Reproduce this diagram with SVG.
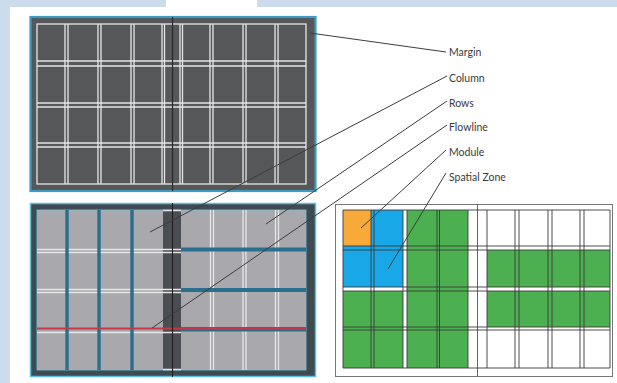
<svg xmlns="http://www.w3.org/2000/svg" width="617" height="383" viewBox="0 0 617 383">
<style>
.wl{stroke:#e6e6e8;stroke-width:1.3;fill:none}
.dl{stroke:#3a3a3a;stroke-width:0.9;fill:none}
.lead{stroke:#3d3d3d;stroke-width:1;fill:none}
.lbl{font-family:Lato,"Open Sans","Liberation Sans",sans-serif;font-size:10.5px;fill:#3a3a3a}
.teal{fill:#2a6e8e}
</style>
<rect width="617" height="383" fill="#ffffff"/>
<rect x="0" y="0" width="617" height="7" fill="#cddcec"/>
<rect x="166" y="0" width="91" height="7" fill="#ffffff"/>
<rect x="0" y="0" width="10" height="383" fill="#cddcec"/>

<g id="panel-top">
<rect x="30.5" y="17" width="285" height="174" fill="#555759" stroke="#3f9cbf" stroke-width="2.2"/>
<g class="wl">
<rect x="37" y="24" width="269" height="160"/>
<path d="M65 24V184M68 24V184M98 24V184M101 24V184M131 24V184M134 24V184M162 24V184M164.5 24V184M180 24V184M182.5 24V184M210 24V184M213 24V184M243 24V184M246 24V184M275 24V184M278 24V184"/>
<path d="M37 61H306M37 66H306M37 103H306M37 107H306M37 143H306M37 147H306"/>
</g>
<line x1="172.5" y1="17" x2="172.5" y2="191" stroke="#2a2a2a" stroke-width="1.2"/>
</g>

<g id="panel-bottom-left">
<rect x="30.5" y="203.5" width="285" height="173" fill="#3f4a52" stroke="#5bc0dc" stroke-width="1.5"/>
<rect x="37" y="210" width="269" height="160" fill="#a9a8ac" stroke="#6cc8e0" stroke-width="0.8"/>
<rect x="163" y="210" width="18" height="160" fill="#4a4d52"/>
<g class="wl">
<path d="M37 249.5H181M37 252.5H181M37 289.5H181M37 292.5H181M37 332.5H181M163 210.5H181M163 369.5H181"/>
<path d="M210.5 210V370M213.5 210V370M243 210V370M246 210V370M275.5 210V370M278.5 210V370"/>
</g>
<rect class="teal" x="65.3" y="210" width="3.4" height="160"/>
<rect class="teal" x="97.3" y="210" width="3.4" height="160"/>
<rect class="teal" x="130.3" y="210" width="3.4" height="160"/>
<rect class="teal" x="181" y="247.5" width="125" height="4"/>
<rect class="teal" x="181" y="288" width="125" height="4"/>
<rect class="teal" x="181" y="327" width="125" height="4.5"/>
<line x1="37" y1="328.5" x2="306" y2="328.5" stroke="#c8364a" stroke-width="2.2"/>
<line x1="172.5" y1="203" x2="172.5" y2="377" stroke="#1e1e1e" stroke-width="1.1"/>
</g>

<g id="panel-bottom-right">
<rect x="335.5" y="204.5" width="277" height="172" fill="#ffffff" stroke="#777" stroke-width="1"/>
<line x1="477.5" y1="204.5" x2="477.5" y2="376.5" stroke="#666" stroke-width="1"/>
<rect x="343" y="210" width="28" height="36" fill="#f7a93a"/>
<rect x="371" y="210" width="32" height="36" fill="#18a8e8"/>
<rect x="343" y="246" width="60" height="41" fill="#18a8e8"/>
<rect x="343" y="291" width="60" height="77" fill="#4caf50"/>
<rect x="407" y="210" width="61" height="158" fill="#4caf50"/>
<rect x="487" y="250" width="123" height="37" fill="#4caf50"/>
<rect x="487" y="291" width="123" height="36" fill="#4caf50"/>
<g class="dl">
<path d="M343 210V368M371 210V368M374 210V368M403 210V368M407 210V368M437 210V368M439.5 210V368M468 210V368M487 210V368M515 210V368M519 210V368M548 210V368M552 210V368M580 210V368M584 210V368M610 210V368"/>
<path d="M343 210H610M343 246H610M343 250H610M343 287H610M343 291H610M343 327H610M343 330H610M343 368H610"/>
</g>
</g>

<g id="connectors" class="lead">
<line x1="310" y1="33" x2="446" y2="52"/>
<line x1="150" y1="232" x2="447" y2="76"/>
<line x1="266" y1="224" x2="447" y2="101"/>
<line x1="152" y1="328" x2="447" y2="125"/>
<line x1="361" y1="228" x2="446" y2="150"/>
<line x1="388" y1="269" x2="446" y2="173"/>
</g>

<g id="labels">
<text class="lbl" x="449" y="56">Margin</text>
<text class="lbl" x="449" y="81.5">Column</text>
<text class="lbl" x="449" y="106.5">Rows</text>
<text class="lbl" x="449" y="131">Flowline</text>
<text class="lbl" x="449" y="155.5">Module</text>
<text class="lbl" x="449" y="181">Spatial Zone</text>
</g>
</svg>
